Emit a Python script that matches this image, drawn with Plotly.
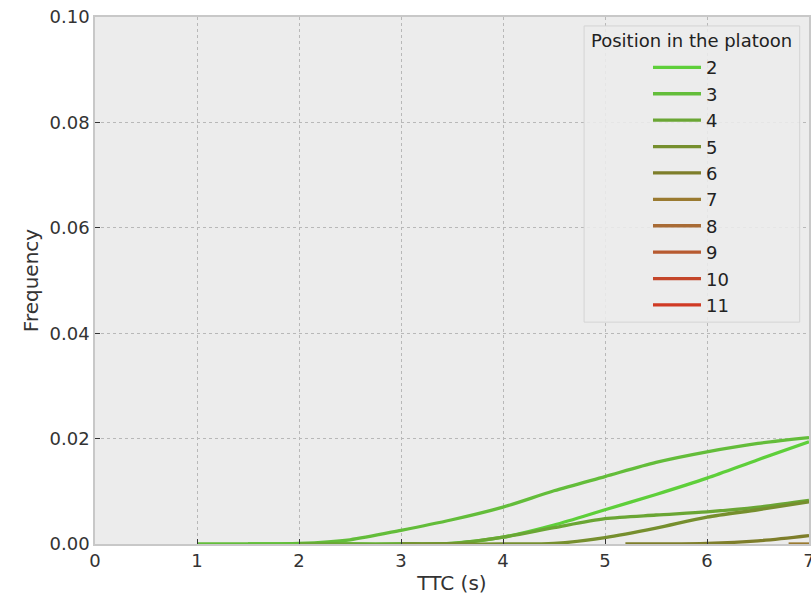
import plotly.graph_objects as go

positions = ["2", "3", "4", "5", "6", "7", "8", "9", "10", "11"]
colors = ["#5ecf3a", "#63bd3a", "#6aa634", "#768f2e", "#7e7e2a",
          "#9a7a30", "#a86b35", "#b75a30", "#c4462a", "#d03a24"]

x_p2 = [1.5, 2.0, 2.5, 3.0, 3.5, 4.0, 4.5, 5.0, 5.5, 6.0, 6.5, 7.0]
y_p2 = [0.0, 0.0, 0.0, 0.0, 0.0001, 0.0013, 0.0036, 0.0065, 0.0094, 0.0125, 0.0160, 0.0194]

x_p3 = [1.0, 1.5, 2.0, 2.5, 3.0, 3.5, 4.0, 4.5, 5.0, 5.5, 6.0, 6.5, 7.0]
y_p3 = [0.0, 0.0, 0.0001, 0.0008, 0.0026, 0.0046, 0.0070, 0.0101, 0.0128, 0.0155, 0.0175, 0.0191, 0.0202]

x_p4 = [2.0, 2.5, 3.0, 3.5, 4.0, 4.5, 5.0, 5.5, 6.0, 6.5, 7.0]
y_p4 = [0.0, 0.0, 0.0, 0.0001, 0.0013, 0.0031, 0.0048, 0.0055, 0.0061, 0.0070, 0.0083]

x_p5 = [3.0, 3.5, 4.0, 4.5, 5.0, 5.5, 6.0, 6.5, 7.0]
y_p5 = [0.0, 0.0, 0.0, 0.0001, 0.0012, 0.0030, 0.0051, 0.0065, 0.0080]

x_p6 = [5.2, 5.6, 6.0, 6.5, 7.0]
y_p6 = [0.0, 0.0, 0.0001, 0.0006, 0.0016]

x_p7 = [6.8, 7.0]
y_p7 = [0.0, 0.0]

series_x = [x_p2, x_p3, x_p4, x_p5, x_p6, x_p7, [], [], [], []]
series_y = [y_p2, y_p3, y_p4, y_p5, y_p6, y_p7, [], [], [], []]

x_ticks = [0, 1, 2, 3, 4, 5, 6, 7]
y_ticks = [0.0, 0.02, 0.04, 0.06, 0.08, 0.10]
y_tick_labels = ["0.00", "0.02", "0.04", "0.06", "0.08", "0.10"]

legend_title = "Position in the platoon"

fig = go.Figure()
for name, c, xs, ys in zip(positions, colors, series_x, series_y):
    fig.add_trace(go.Scatter(
        x=xs if xs else [None], y=ys if ys else [None], mode="lines", name=name,
        legendgroup=name,
        line=dict(color=c, width=3.3, shape="spline", smoothing=0.8),
        showlegend=True,
    ))

font_family = "DejaVu Sans, Verdana, sans-serif"
axis_common = dict(
    showgrid=True, gridcolor="#b8b8b8", griddash="dot", gridwidth=1,
    zeroline=False, showline=True, linecolor="#c8c8c8", linewidth=1.5, mirror=True,
    ticks="inside", ticklen=5, tickcolor="#333333",
    automargin=False, ticklabeloverflow="allow",
    tickfont=dict(size=18, color="#333333"),
)

fig.update_layout(
    template="none",
    width=811, height=597,
    margin=dict(l=95, r=2, t=17, b=53),
    paper_bgcolor="white",
    plot_bgcolor="#ececec",
    font=dict(family=font_family, size=18, color="#333333"),
    showlegend=True,
    legend=dict(
        x=0.7745, y=0.939, xanchor="left", yanchor="top",
        bgcolor="rgba(0,0,0,0)", borderwidth=0,
        font=dict(size=18, color="#222222"),
        itemwidth=48,
        tracegroupgap=0,
    ),
    shapes=[dict(
        type="rect", xref="paper", yref="paper",
        x0=0.685, x1=0.987, y0=0.421, y1=0.983,
        fillcolor="rgba(236,236,236,0.85)", line=dict(color="#d4d4d4", width=1),
        layer="above",
    )],
    annotations=[dict(
        text=legend_title, xref="paper", yref="paper", x=0.836, y=0.956,
        xanchor="center", yanchor="middle", showarrow=False,
        font=dict(size=18, color="#222222"),
    )],
    xaxis=dict(
        range=[0, 7], tickvals=x_ticks, ticktext=[str(v) for v in x_ticks],
        title=dict(text="TTC (s)", font=dict(size=20, color="#333333"), standoff=6),
        **axis_common,
    ),
    yaxis=dict(
        range=[0, 0.1], tickvals=y_ticks, ticktext=y_tick_labels,
        title=dict(text="Frequency", font=dict(size=20, color="#333333"), standoff=6),
        **axis_common,
    ),
)

fig.write_html("out.html")
